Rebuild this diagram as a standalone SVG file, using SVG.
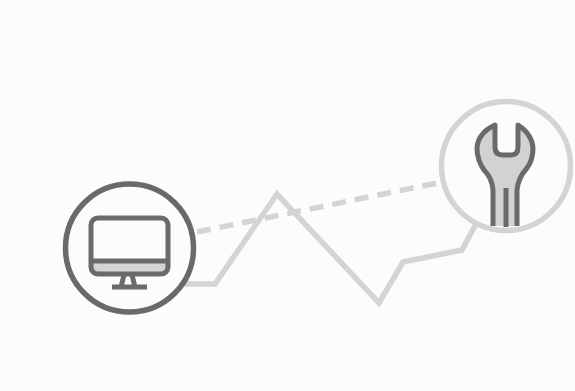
<svg xmlns="http://www.w3.org/2000/svg" width="575" height="391" viewBox="0 0 575 391">
<style>
.dark{fill:none;stroke:#6b6b6b;stroke-width:5;stroke-linejoin:round}
.light{fill:none;stroke:#d4d4d4;stroke-width:5.500}
</style>
<defs><filter id="soft" x="-5%" y="-5%" width="110%" height="110%"><feGaussianBlur stdDeviation="0.7"/></filter></defs>
<rect width="575" height="391" fill="#fcfcfc"/>
<g filter="url(#soft)">
<g id="connectors">
<path class="light" d="M185 284H215L277 194L379 303L403 262L462 250L477 222"/>
<path class="light" stroke-dasharray="14 9" d="M197 232L437 183"/>
</g>
<g id="monitor">
<circle cx="129.500" cy="248" r="64" fill="#fcfcfc" stroke="#6b6b6b" stroke-width="5.500"/>
<path d="M91 261H168V268Q168 274 162 274H97Q91 274 91 268Z" fill="#d4d4d4"/>
<rect class="dark" x="91" y="218" width="77" height="56" rx="7"/>
<path class="dark" d="M91 261H168M124 275L121 287M132 275L135 287M112 287H147"/>
</g>
<g id="wrench">
<circle cx="506" cy="166" r="64.500" fill="#fcfcfc" stroke="#d4d4d4" stroke-width="5.500"/>
<path d="M495 125V147Q495 155 503 155H511Q518 155 518 147V125Q532 134 533 148Q533 160 527 168Q518 178 517 190V226H493V190Q492 178 484 170Q477 160 477 148Q478 133 495 125Z" fill="#d2d2d2"/>
<path class="dark" d="M493 226V190Q492 178 484 170Q477 160 477 148Q478 133 495 125V147Q495 155 503 155H511Q518 155 518 147V125Q532 134 533 148Q533 160 527 168Q518 178 517 190V226"/>
<path class="dark" d="M506 188V227"/>
</g>
</g>
</svg>
